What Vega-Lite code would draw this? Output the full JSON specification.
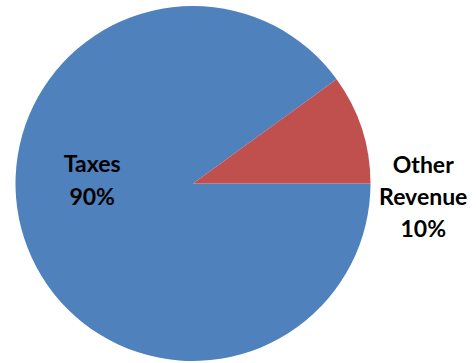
{
  "$schema": "https://vega.github.io/schema/vega-lite/v6.json",
  "width": 386,
  "height": 367,
  "autosize": "none",
  "padding": {"left": 0, "top": 0, "right": 90, "bottom": 0},
  "background": "white",
  "view": {"stroke": null},
  "data": {"values": [
    {"category": "Taxes", "value": 90, "label": "Taxes\n90%"},
    {"category": "Other Revenue", "value": 10, "label": "Other\nRevenue\n10%"}
  ]},
  "encoding": {
    "theta": {"field": "value", "type": "quantitative", "stack": true, "scale": {"range": [1.5707963, 7.8539816]}},
    "order": {"field": "value", "type": "quantitative", "sort": "descending"}
  },
  "layer": [
    {
      "mark": {"type": "arc", "outerRadius": 177.5},
      "encoding": {
        "color": {"field": "category", "type": "nominal", "scale": {"domain": ["Taxes", "Other Revenue"], "range": ["#4F81BD", "#C0504D"]}, "legend": null}
      }
    },
    {
      "mark": {"type": "text", "radius": 106, "dy": -51, "lineBreak": "\n", "font": "Lato", "fontSize": 23, "fontWeight": "bold", "lineHeight": 33, "color": "black", "align": "center", "baseline": "middle"},
      "encoding": {
        "text": {"condition": {"test": "datum.category === 'Taxes'", "field": "label"}, "value": ""}
      }
    },
    {
      "mark": {"type": "text", "radius": 240, "dy": 57, "dx": 2, "lineBreak": "\n", "font": "Lato", "fontSize": 23, "fontWeight": "bold", "lineHeight": 32, "color": "black", "align": "center", "baseline": "middle"},
      "encoding": {
        "text": {"condition": {"test": "datum.category === 'Other Revenue'", "field": "label"}, "value": ""}
      }
    }
  ]
}
